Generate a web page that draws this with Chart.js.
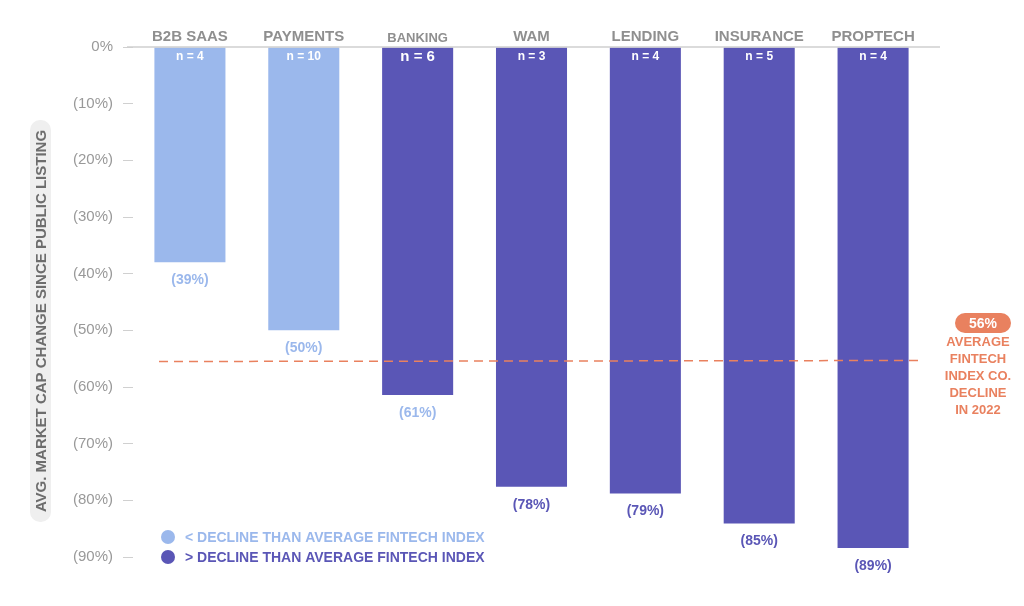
<!DOCTYPE html>
<html>
<head>
<meta charset="utf-8">
<script src="https://cdn.jsdelivr.net/npm/chart.js@4"></script>
<style>
  html, body { margin: 0; padding: 0; background: #fff; }
  #wrap { width: 1024px; height: 606px; }
</style>
</head>
<body>
<div id="wrap"><canvas id="chart" width="1024" height="606"></canvas></div>
<script>
var categories = ['B2B SAAS', 'PAYMENTS', 'BANKING', 'WAM', 'LENDING', 'INSURANCE', 'PROPTECH'];
var counts = [4, 10, 6, 3, 4, 5, 4];
var changes = [-38, -50, -61.4, -77.6, -78.8, -84.1, -88.4];
var changeLabels = ['(39%)', '(50%)', '(61%)', '(78%)', '(79%)', '(85%)', '(89%)'];
var groups = ['less', 'less', 'more', 'more', 'more', 'more', 'more'];
var labelGroups = ['less', 'less', 'less', 'more', 'more', 'more', 'more'];
var averageDecline = -55.5;
var averageText = '56%';
var yTicks = [0, -10, -20, -30, -40, -50, -60, -70, -80, -90];

var LIGHT = '#9bb8ec';
var DARK = '#5a56b6';
var ORANGE = '#e9815f';
var FONT = '"Liberation Sans", Arial, Helvetica, sans-serif';

var overlay = {
    id: 'overlay',
    afterDatasetsDraw: function(chart) {
        var ctx = chart.ctx;
        var x = chart.scales.x, y = chart.scales.y;
        var meta = chart.getDatasetMeta(0);
        var y0 = y.getPixelForValue(0);

        ctx.save();
        // zero line
        ctx.strokeStyle = '#cfcfcf';
        ctx.lineWidth = 1.5;
        ctx.beginPath();
        ctx.moveTo(127, y0);
        ctx.lineTo(940, y0);
        ctx.stroke();

        // n = labels and value labels
        ctx.textAlign = 'center';
        ctx.textBaseline = 'middle';
        meta.data.forEach(function(bar, i) {
            ctx.fillStyle = '#fff';
            ctx.font = (i === 2 ? 'bold 15px ' : 'bold 12px ') + FONT;
            ctx.fillText('n = ' + counts[i], bar.x, y0 + 10);
            ctx.fillStyle = labelGroups[i] === 'less' ? LIGHT : DARK;
            ctx.font = 'bold 14px ' + FONT;
            ctx.fillText(changeLabels[i], bar.x, bar.y + 18);
        });

        // average line
        var ya = y.getPixelForValue(averageDecline);
        ctx.strokeStyle = ORANGE;
        ctx.lineWidth = 1.5;
        ctx.setLineDash([9, 6]);
        ctx.beginPath();
        ctx.moveTo(159, ya);
        ctx.lineTo(918, ya - 1);
        ctx.stroke();
        ctx.setLineDash([]);

        // annotation
        var cx = 983, cy = 323;
        ctx.fillStyle = ORANGE;
        ctx.beginPath();
        ctx.roundRect(cx - 28, cy - 10, 56, 20, 10);
        ctx.fill();
        ctx.fillStyle = '#fff';
        ctx.font = 'bold 14px ' + FONT;
        ctx.fillText(averageText, cx, cy + 1);
        ctx.fillStyle = ORANGE;
        ctx.font = 'bold 13px ' + FONT;
        ['AVERAGE', 'FINTECH', 'INDEX CO.', 'DECLINE', 'IN 2022'].forEach(function(t, i) {
            ctx.fillText(t, 978, 342 + i * 17);
        });

        // legend
        ctx.textAlign = 'left';
        ctx.font = 'bold 14px ' + FONT;
        [[LIGHT, '< DECLINE THAN AVERAGE FINTECH INDEX', 537], [DARK, '> DECLINE THAN AVERAGE FINTECH INDEX', 557]].forEach(function(l) {
            ctx.fillStyle = l[0];
            ctx.beginPath();
            ctx.arc(168, l[2], 7, 0, Math.PI * 2);
            ctx.fill();
            ctx.fillText(l[1], 185, l[2] + 1);
        });

        // y title pill
        ctx.fillStyle = '#efefef';
        ctx.beginPath();
        ctx.roundRect(30, 120, 21, 402, 10);
        ctx.fill();
        ctx.translate(41, 321);
        ctx.rotate(-Math.PI / 2);
        ctx.textAlign = 'center';
        ctx.fillStyle = '#6d6d6d';
        ctx.font = 'bold 15px ' + FONT;
        ctx.fillText('AVG. MARKET CAP CHANGE SINCE PUBLIC LISTING', 0, 1);
        ctx.restore();
    }
};

new Chart(document.getElementById('chart'), {
    type: 'bar',
    data: {
        labels: categories,
        datasets: [{
            data: changes,
            backgroundColor: groups.map(function(g) { return g === 'less' ? LIGHT : DARK; }),
            barPercentage: 0.624,
            categoryPercentage: 1
        }]
    },
    options: {
        responsive: false,
        animation: false,
        layout: { padding: { left: 0, right: 94, top: 12, bottom: 49 } },
        plugins: { legend: { display: false }, tooltip: { enabled: false } },
        scales: {
            x: {
                position: 'top',
                grid: { display: false },
                border: { display: false },
                afterFit: function(s) { s.height = 35; },
                ticks: {
                    color: '#8f8f8f',
                    padding: -7,
                    font: function(c) {
                        return { family: FONT, weight: 'bold', size: c.index === 2 ? 13 : 15 };
                    }
                }
            },
            y: {
                min: -90,
                max: 0,
                border: { display: false },
                afterFit: function(s) { s.width = 133; },
                afterBuildTicks: function(s) {
                    s.ticks = yTicks.map(function(v) { return { value: v }; });
                },
                grid: { drawOnChartArea: false, drawTicks: true, tickLength: 10, color: '#d0d0d0' },
                ticks: {
                    color: '#999',
                    padding: 10,
                    font: { family: FONT, size: 15 },
                    callback: function(v) { return v === 0 ? '0%' : '(' + Math.abs(v) + '%)'; }
                }
            }
        }
    },
    plugins: [overlay]
});
</script>
</body>
</html>
